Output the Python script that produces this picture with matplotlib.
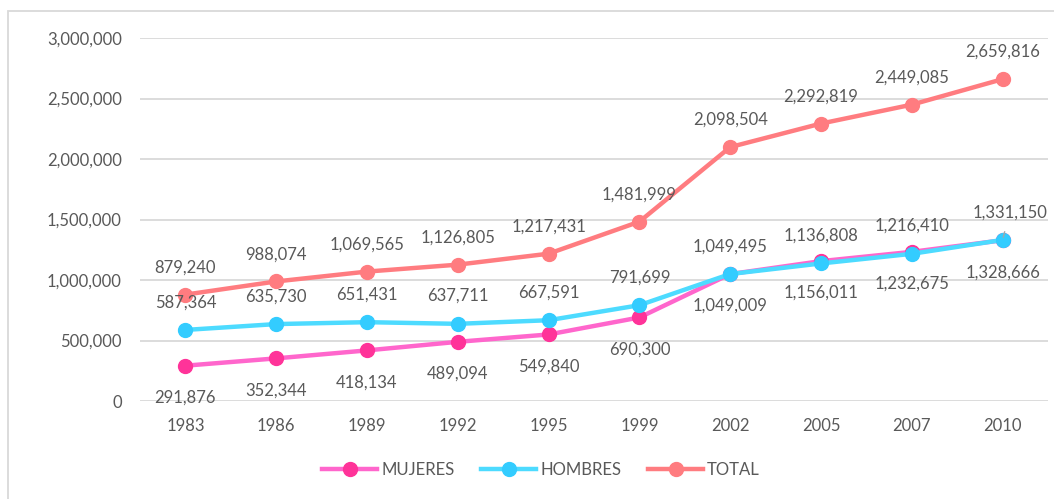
import matplotlib.pyplot as plt
from matplotlib.patches import Rectangle
from matplotlib.ticker import FuncFormatter

years = ["1983", "1986", "1989", "1992", "1995", "1999", "2002", "2005", "2007", "2010"]
mujeres = [291876, 352344, 418134, 489094, 549840, 690300, 1049009, 1156011, 1232675, 1328666]
hombres = [587364, 635730, 651431, 637711, 667591, 791699, 1049495, 1136808, 1216410, 1331150]
total = [879240, 988074, 1069565, 1126805, 1217431, 1481999, 2098504, 2292819, 2449085, 2659816]

plt.rcParams['font.family'] = ['Lato', 'DejaVu Sans']
txt = '#595959'
grid = '#D9D9D9'

fig = plt.figure(figsize=(10.54, 4.99), dpi=100)
ax = fig.add_axes([140 / 1054, 1 - 401 / 499, 908 / 1054, 363 / 499])

x = list(range(len(years)))
ax.plot(x, mujeres, color='#FF66CC', lw=3.2, marker='o', ms=10,
        mfc='#FF3399', mec='#FF3399', label='MUJERES', zorder=3)
ax.plot(x, hombres, color='#4DDBFF', lw=3.2, marker='o', ms=10,
        mfc='#33CCFF', mec='#33CCFF', label='HOMBRES', zorder=4)
ax.plot(x, total, color='#FF7C80', lw=3.2, marker='o', ms=10,
        mfc='#FF7C80', mec='#FF7C80', label='TOTAL', zorder=5)

# etiquetas de datos (encima de las lineas)
fmt = lambda v: f"{v:,.0f}"
for i in x:
    ax.annotate(fmt(total[i]), (i, total[i]), xytext=(0, 19.5), textcoords='offset points',
                ha='center', va='center', fontsize=12, color=txt, zorder=7)
    ax.annotate(fmt(mujeres[i]), (i, mujeres[i]), xytext=(0, -23), textcoords='offset points',
                ha='center', va='center', fontsize=12, color=txt, zorder=7)
    if i == len(x) - 1:
        ax.annotate(fmt(hombres[i]), (i, hombres[i]), xytext=(5, 19.5), textcoords='offset points',
                    ha='center', va='center', fontsize=12, color=txt, zorder=7,
                    arrowprops=dict(arrowstyle='-', color='#A6A6A6', lw=1,
                                    shrinkA=6, shrinkB=2))
    else:
        ax.annotate(fmt(hombres[i]), (i, hombres[i]), xytext=(0, 20), textcoords='offset points',
                    ha='center', va='center', fontsize=12, color=txt, zorder=7)

ax.set_xlim(-0.5, len(years) - 0.5)
ax.set_ylim(0, 3000000)
ax.set_yticks(range(0, 3000001, 500000))
ax.yaxis.set_major_formatter(FuncFormatter(lambda v, p: f"{v:,.0f}"))
ax.set_xticks(x)
ax.set_xticklabels(years)
ax.tick_params(axis='both', length=0, labelsize=12, colors=txt)
ax.tick_params(axis='y', pad=13)
ax.tick_params(axis='x', pad=12)
ax.grid(axis='y', color=grid, lw=1.3)
ax.set_axisbelow(True)
for s in ax.spines.values():
    s.set_visible(False)

leg = fig.legend(loc='center', bbox_to_anchor=(541 / 1054, 1 - 470 / 499), ncol=3,
                 frameon=False, fontsize=12, handlelength=3.3, columnspacing=1.6,
                 handletextpad=0.25)
for t in leg.get_texts():
    t.set_color(txt)

fig.patches.append(Rectangle((8 / 1054, -0.1), 1.2, 1.1 - 11 / 499, transform=fig.transFigure,
                             fill=False, edgecolor=grid, lw=1.3))

fig.savefig('out.png', dpi=100)
